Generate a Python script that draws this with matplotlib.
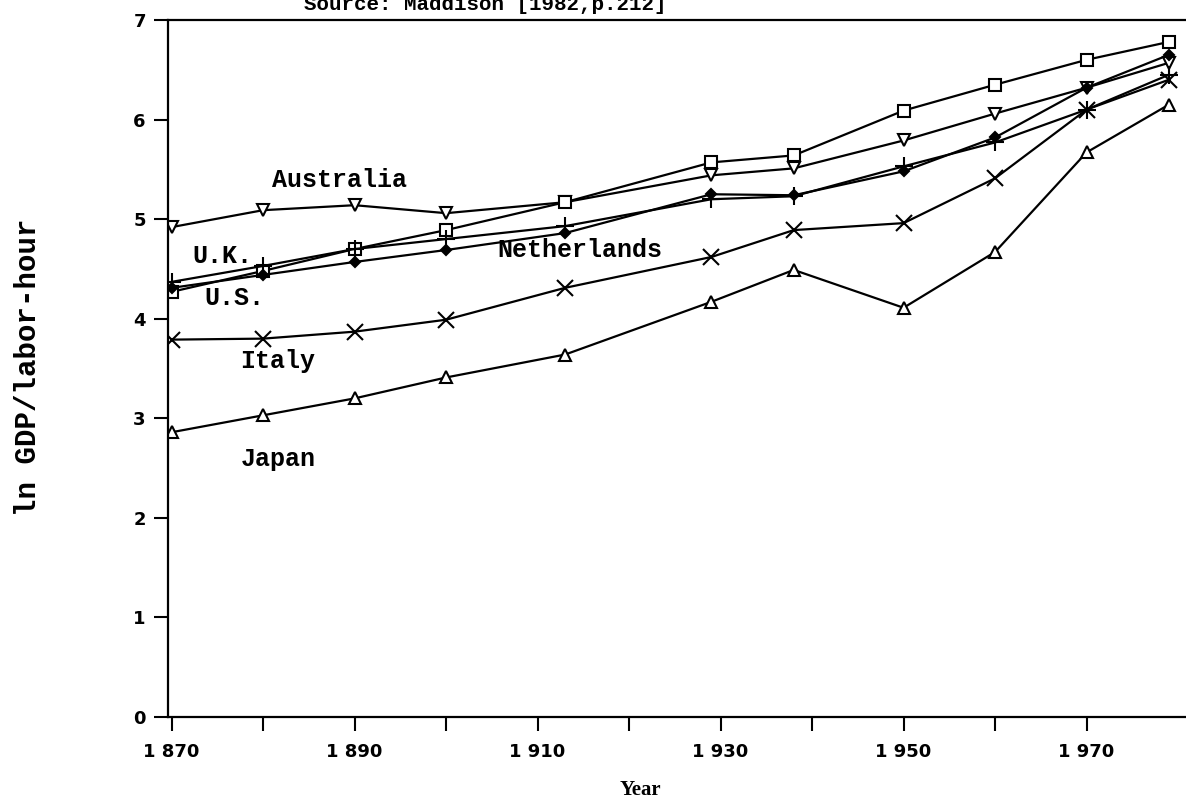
import numpy as np
import matplotlib.pyplot as plt

# benchmark years and ln of GDP per labour-hour
years = [1870, 1880, 1890, 1900, 1913, 1929, 1938, 1950, 1960, 1970, 1979]
australia = [4.92, 5.09, 5.14, 5.06, 5.17, 5.44, 5.51, 5.79, 6.06, 6.32, 6.57]
us = [4.27, 4.48, 4.70, 4.89, 5.17, 5.57, 5.64, 6.09, 6.35, 6.60, 6.78]
uk = [4.37, 4.53, 4.70, 4.80, 4.93, 5.20, 5.23, 5.53, 5.77, 6.10, 6.45]
netherlands = [4.31, 4.44, 4.57, 4.69, 4.86, 5.25, 5.24, 5.48, 5.82, 6.32, 6.65]
italy = [3.79, 3.80, 3.87, 3.99, 4.31, 4.62, 4.89, 4.96, 5.41, 6.10, 6.40]
japan = [2.86, 3.03, 3.20, 3.41, 3.64, 4.17, 4.49, 4.11, 4.67, 5.67, 6.15]

tick_years = [1870, 1890, 1910, 1930, 1950, 1970]
tick_labels = ["1 870", "1 890", "1 910", "1 930", "1 950", "1 970"]
minor_years = [1880, 1900, 1920, 1940, 1960]

mono = "Liberation Mono"

fig = plt.figure(figsize=(11.86, 8.06), dpi=100)
ax = fig.add_axes([168/1186, 89/806, 1 - 168/1186 + 0.01, 697/806])

style = dict(color="black", lw=1.6, mec="black", mew=1.5)
ax.plot(years, australia, marker="v", ms=9, mfc="white", **style)
ax.plot(years, us, marker="s", ms=8, mfc="white", **style)
ax.plot(years, uk, marker="+", ms=13, **style)
ax.plot(years, netherlands, marker="D", ms=5, mfc="black", **style)
ax.plot(years, italy, marker="x", ms=11, **style)
ax.plot(years, japan, marker="^", ms=9, mfc="white", **style)

ax.set_xlim(1869.6, 1869.6 + 1030/9.15)
ax.set_ylim(0, 7)

ax.set_xticks(tick_years)
ax.set_xticklabels(tick_labels)
ax.set_xticks(minor_years, minor=True)
ax.set_yticks(range(8))
ax.tick_params(axis="both", which="both", direction="out", length=10, width=1.5)
ax.tick_params(axis="x", which="both", pad=9)
ax.tick_params(axis="y", pad=6)
for lab in ax.get_xticklabels() + ax.get_yticklabels():
    lab.set_fontweight("bold")
    lab.set_fontsize(13)
ax.spines["right"].set_visible(False)
for s in ["left", "bottom", "top"]:
    ax.spines[s].set_linewidth(1.6)

# series names written beside the lines
txt = dict(family=mono, fontweight="bold", fontsize=18, ha="center", va="center")
ax.text(1888.4, 5.39, "Australia", **txt)
ax.text(1875.5, 4.63, "U.K.", **txt)
ax.text(1876.9, 4.21, "U.S.", **txt)
ax.text(1914.6, 4.69, "Netherlands", **txt)
ax.text(1881.6, 3.58, "Italy", **txt)
ax.text(1881.6, 2.59, "Japan", **txt)

fig.text(28/1186, 1 - 367/806, "ln GDP/labor-hour", family=mono, fontweight="bold",
         fontsize=21, rotation=90, ha="center", va="center")
fig.text(640/1186, 1 - 790/806, "Year", fontweight="bold", fontsize=15,
         ha="center", va="center", family="Liberation Serif")
fig.text(485/1186, 1 - 4/806, "Source: Maddison [1982,p.212]", family=mono,
         fontweight="bold", fontsize=15, ha="center", va="center")

fig.savefig("out.png", dpi=100)
